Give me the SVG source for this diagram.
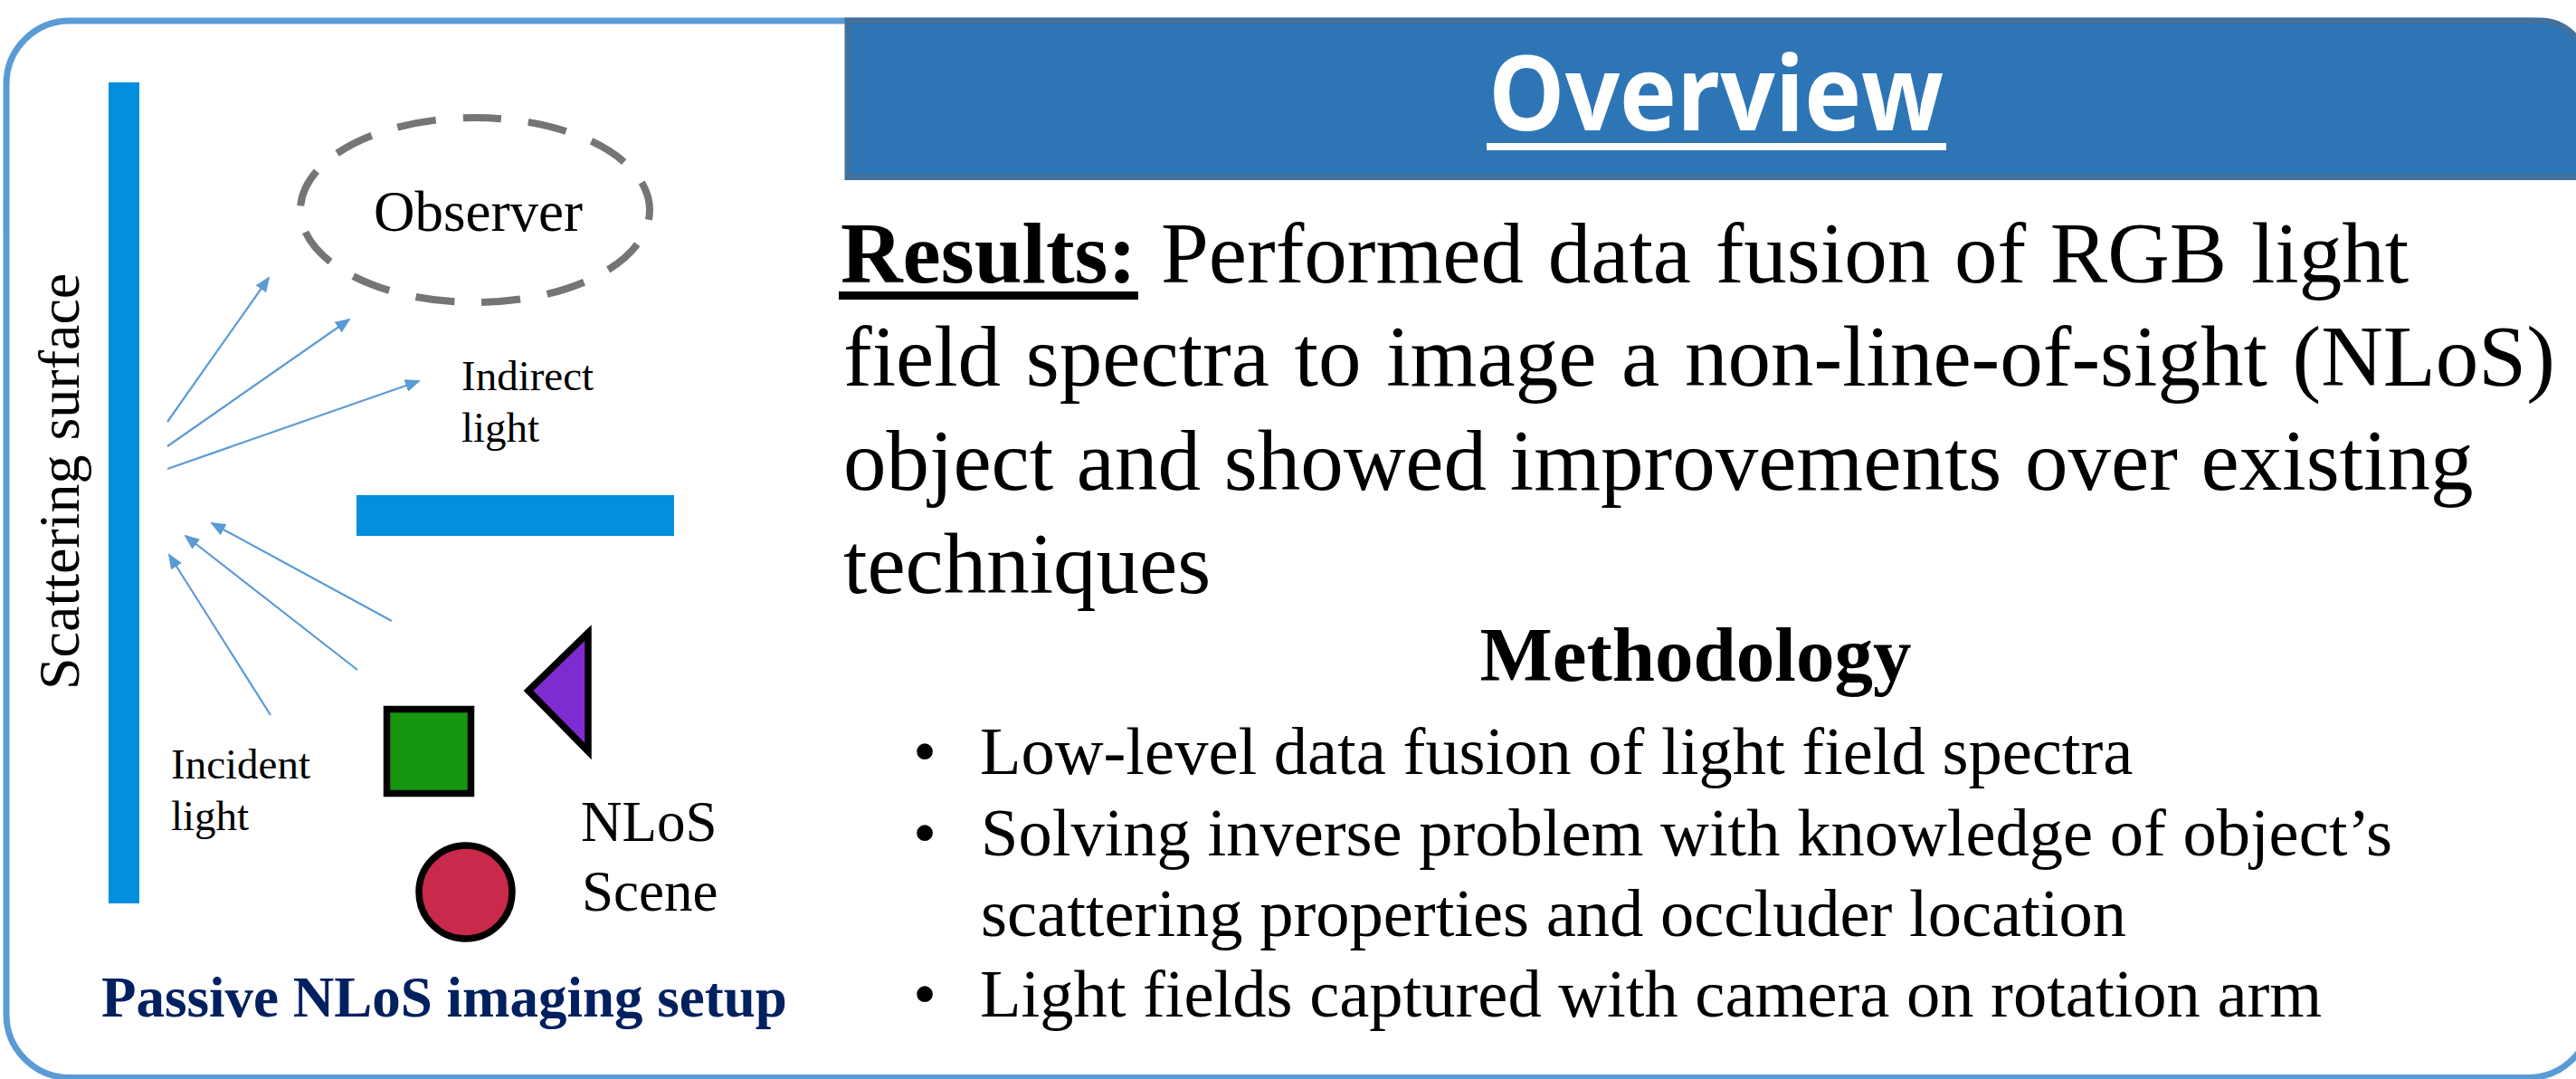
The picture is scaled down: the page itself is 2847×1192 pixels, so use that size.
<svg xmlns="http://www.w3.org/2000/svg" width="2847" height="1192" viewBox="0 0 2847 1192">
  <defs>
    <style>
      .bar { fill: #038fdc; }
      .ray { stroke: #5b9bd5; stroke-width: 2.2; fill: none; marker-end: url(#ah); }
      .obj { stroke: #000; stroke-width: 7.5; }
    </style>
    <marker id="ah" markerWidth="17" markerHeight="14" refX="15" refY="7" orient="auto" markerUnits="userSpaceOnUse">
      <path d="M0,0 L17,7 L0,14 z" fill="#5b9bd5"/>
    </marker>
  </defs>

  <rect width="2847" height="1192" fill="#ffffff"/>

  <g id="frame">
    <rect x="7" y="23" width="2857" height="1167.5" rx="70" ry="70" fill="none" stroke="#5b9bd5" stroke-width="7"/>
  </g>

  <g id="header">
    <path d="M937,23 H2807 A52,52 0 0 1 2859,75 V195.5 H937 Z" fill="#2e75b6" stroke="#41719c" stroke-width="7"/>
    <text x="1645" y="144" font-family="Open Sans, Liberation Sans, sans-serif" font-weight="700" font-size="115" fill="#ffffff" textLength="503" lengthAdjust="spacingAndGlyphs">Overview</text>
    <rect x="1643" y="158" width="508" height="8" fill="#ffffff"/>
  </g>

  <g id="scattering-surface">
    <rect class="bar" x="120" y="91" width="34" height="907"/>
    <text transform="translate(87,762) rotate(-90)" font-family="Liberation Serif, serif" font-weight="400" font-size="64" fill="#000">Scattering surface</text>
  </g>

  <g id="observer">
    <path d="M525,130 A193,102 0 1 1 525,334 A193,102 0 1 1 525,130 Z" fill="none" stroke="#757575" stroke-width="8" stroke-dasharray="43 30" stroke-dashoffset="14"/>
    <text x="413" y="255" font-family="Liberation Serif, serif" font-weight="400" font-size="63" fill="#000">Observer</text>
  </g>

  <g id="occluder">
    <rect class="bar" x="394" y="547" width="351" height="45"/>
  </g>

  <g id="nlos-square">
    <rect class="obj" x="427.5" y="783.5" width="93" height="93" fill="#17960f"/>
  </g>
  <g id="nlos-triangle">
    <polygon class="obj" points="650,699 584,763 650,830" fill="#7e2bcf" stroke-linejoin="miter"/>
  </g>
  <g id="nlos-circle">
    <circle class="obj" cx="514.5" cy="985.5" r="51.5" fill="#c9294a"/>
  </g>

  <g id="connectors">
    <line class="ray" x1="185" y1="466" x2="297" y2="307"/>
    <line class="ray" x1="185" y1="493" x2="386" y2="353"/>
    <line class="ray" x1="185" y1="518" x2="463" y2="421"/>
    <line class="ray" x1="433" y1="686" x2="234" y2="578"/>
    <line class="ray" x1="395" y1="740" x2="205" y2="592"/>
    <line class="ray" x1="299" y1="790" x2="187" y2="613"/>
  </g>

  <g id="label-indirect">
    <text x="510" y="431" font-family="Liberation Serif, serif" font-weight="400" font-size="47" fill="#000">Indirect</text>
    <text x="510" y="488" font-family="Liberation Serif, serif" font-weight="400" font-size="47" fill="#000">light</text>
  </g>
  <g id="label-incident">
    <text x="189" y="860" font-family="Liberation Serif, serif" font-weight="400" font-size="47" fill="#000">Incident</text>
    <text x="189" y="917" font-family="Liberation Serif, serif" font-weight="400" font-size="47" fill="#000">light</text>
  </g>
  <g id="label-scene">
    <text x="642" y="929" font-family="Liberation Serif, serif" font-weight="400" font-size="63" fill="#000">NLoS</text>
    <text x="643" y="1006" font-family="Liberation Serif, serif" font-weight="400" font-size="63" fill="#000">Scene</text>
  </g>
  <g id="label-setup">
    <text x="112" y="1123" font-family="Liberation Serif, serif" font-weight="700" font-size="63" fill="#002060">Passive NLoS imaging setup</text>
  </g>

  <g id="results">
    <text x="929" y="312" font-family="Liberation Serif, serif" font-weight="700" font-size="95" fill="#000">Results:</text>
    <rect x="927" y="322" width="331" height="9" fill="#000"/>
    <text x="1283" y="312" font-family="Liberation Serif, serif" font-weight="400" font-size="95" fill="#000" word-spacing="3">Performed data fusion of RGB light</text>
    <text x="932" y="426" font-family="Liberation Serif, serif" font-weight="400" font-size="95" fill="#000" word-spacing="4">field spectra to image a non-line-of-sight (NLoS)</text>
    <text x="932" y="541" font-family="Liberation Serif, serif" font-weight="400" font-size="95" fill="#000" word-spacing="2">object and showed improvements over existing</text>
    <text x="932" y="655" font-family="Liberation Serif, serif" font-weight="400" font-size="95" fill="#000">techniques</text>
  </g>

  <g id="methodology">
    <text x="1874" y="752" font-family="Liberation Serif, serif" font-size="85" font-weight="700" text-anchor="middle" fill="#000">Methodology</text>
    <text x="1022" y="855" font-family="Liberation Serif, serif" font-weight="400" font-size="74.5" text-anchor="middle" fill="#000">•</text>
    <text x="1083" y="855" font-family="Liberation Serif, serif" font-weight="400" font-size="74.5" fill="#000">Low-level data fusion of light field spectra</text>
    <text x="1022" y="945" font-family="Liberation Serif, serif" font-weight="400" font-size="74.5" text-anchor="middle" fill="#000">•</text>
    <text x="1084" y="945" font-family="Liberation Serif, serif" font-weight="400" font-size="74.5" fill="#000">Solving inverse problem with knowledge of object’s</text>
    <text x="1084" y="1034" font-family="Liberation Serif, serif" font-weight="400" font-size="74.5" fill="#000">scattering properties and occluder location</text>
    <text x="1022" y="1123" font-family="Liberation Serif, serif" font-weight="400" font-size="74.5" text-anchor="middle" fill="#000">•</text>
    <text x="1083" y="1123" font-family="Liberation Serif, serif" font-weight="400" font-size="74.5" fill="#000">Light fields captured with camera on rotation arm</text>
  </g>
</svg>
